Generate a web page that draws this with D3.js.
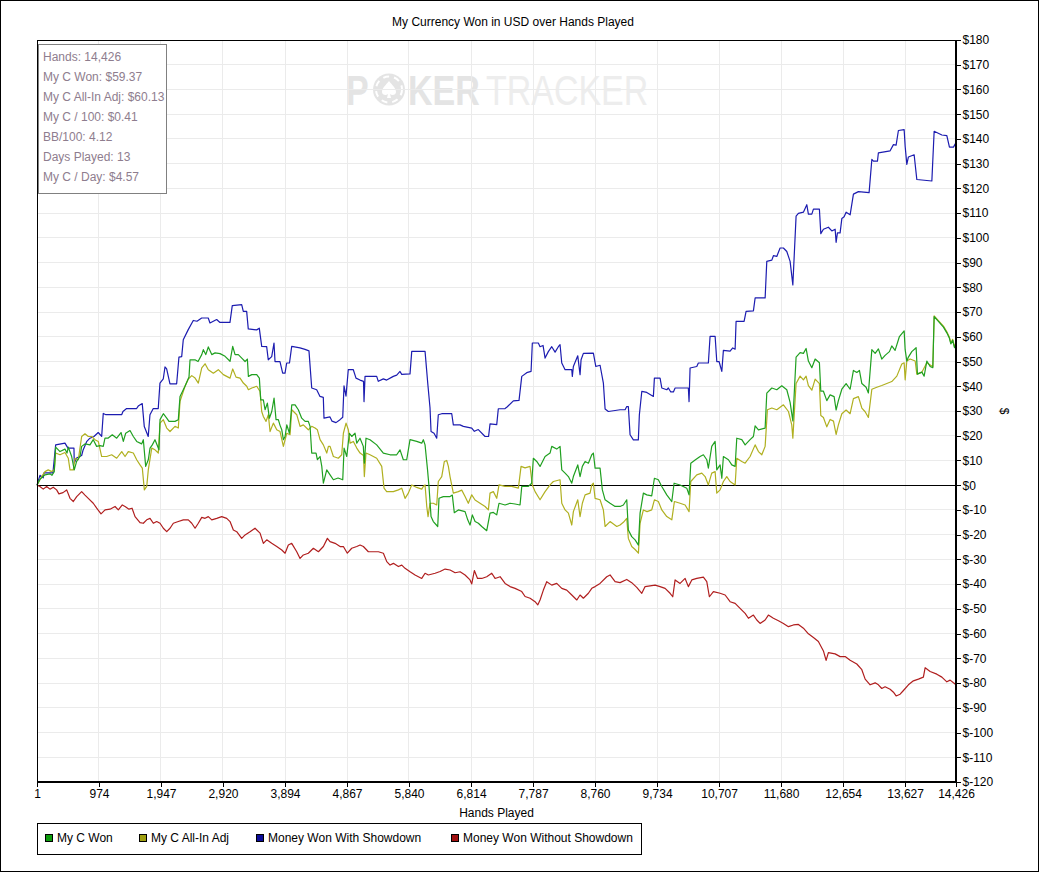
<!DOCTYPE html>
<html lang="en">
<head>
<meta charset="UTF-8">
<title>My Currency Won in USD over Hands Played</title>
<script src="https://d3js.org/d3.v7.min.js"></script>
<style>
  body, html { margin: 0; background: #fff; }
  svg { display: block; font-family: "Liberation Sans", Arial, sans-serif; }
  .axis text { font-size: 12px; fill: #000; }
  .axis path, .axis line { stroke: #000; shape-rendering: crispEdges; }
  .grid line { stroke: #ebebeb; shape-rendering: crispEdges; }
</style>
</head>
<body>
<div id="chart"></div>
<script>
// ---- data ----
const xTicks = [1, 974, 1947, 2920, 3894, 4867, 5840, 6814, 7787, 8760, 9734, 10707, 11680, 12654, 13627, 14426];
const yTicks = d3.range(-120, 181, 10);

const seriesNames = ["My C Won", "My C All-In Adj", "Money Won With Showdown", "Money Won Without Showdown"];

const statLines = [
  "Hands: 14,426",
  "My C Won: $59.37",
  "My C All-In Adj: $60.13",
  "My C / 100: $0.41",
  "BB/100: 4.12",
  "Days Played: 13",
  "My C / Day: $4.57"
];

// Money Won With Showdown
const blueHands = [
  1,47,99,110,251,294,440,487,581,586,
  623,702,722,780,832,895,962,1016,1041,1083,
  1330,1350,1408,1565,1590,1653,1685,1747,1774,1826,
  1904,1931,1983,2010,2036,2088,2193,2229,2272,2297,
  2375,2454,2512,2586,2689,2716,2821,2873,3030,3066,
  3214,3239,3292,3317,3449,3490,3528,3606,3631,3685,
  3721,3737,3815,3857,3894,3920,3964,3999,4129,4208,
  4270,4313,4391,4443,4495,4506,4600,4632,4694,4757,
  4800,4820,4851,4887,4966,5008,5071,5126,5134,5150,
  5333,5358,5437,5490,5594,5647,5699,5726,5856,5883,
  6092,6134,6170,6186,6233,6275,6300,6354,6511,6536,
  6641,6693,6825,6866,6928,7034,7089,7112,7217,7242,
  7348,7379,7478,7567,7610,7688,7756,7776,7870,7897,
  7944,7976,8027,8081,8133,8184,8211,8238,8290,8395,
  8404,8420,8489,8525,8541,8577,8734,8772,8839,8891,
  8918,8969,9075,9153,9232,9258,9283,9310,9362,9440,
  9456,9494,9572,9676,9692,9781,9808,9886,9911,9949,
  9990,10017,10225,10236,10252,10357,10382,10539,10566,10645,
  10671,10707,10750,10775,10880,10922,10959,10974,11100,11131,
  11246,11273,11430,11456,11535,11560,11613,11665,11717,11770,
  11822,11865,11916,11952,12031,12084,12109,12163,12188,12282,
  12304,12345,12423,12477,12529,12544,12565,12607,12634,12670,
  12701,12764,12816,12894,13062,13105,13130,13193,13208,13392,
  13444,13486,13522,13612,13628,13654,13679,13769,13811,14047,
  14083,14204,14282,14323,14386,14426
];
const blueVals = [
  0,4,3,5,5,16.3,17,15,15,9,
  11,12,14,17.6,19,19.7,21.3,19.7,29,28.5,
  28.5,29.8,31,31,32,33,23.7,19.7,28.5,31,
  31,41.3,43,47.8,47,41,41,51.8,52,58.8,
  62.9,66.6,66.3,67.6,67.6,65.6,67,65.8,65.8,72.6,
  73,70.3,70.3,63.2,62.8,63.5,56.1,56,50.7,52,
  57.5,50,50,45.3,45.3,49.4,49.4,56.1,55.5,54.9,
  54.3,39.3,38.6,35.9,35.5,27.1,27.6,25.9,25.3,26.5,
  27.5,40.2,36,46.7,46.7,43.3,42.5,42,33.8,44,
  44,42,43,42.5,44,44.5,46,44.8,45,54.1,
  54.1,41.3,31.2,21.7,21,19,28.5,28.9,28.9,24.4,
  24.4,23.8,23.1,21.8,22.5,19.7,19.7,24.8,24.5,30.9,
  31,31.6,34.1,34.3,44,45.5,46,57.5,57.5,56,
  56.5,51.4,54,56,53.8,56,56.8,49.4,46.7,46.7,
  44,48,52.3,44.7,50.7,53.3,53.4,48,48.5,41.3,
  30.8,29.8,30.2,30.5,30.5,31.8,31.8,20.4,18.3,18.3,
  28.5,37.9,37.5,35.9,43.3,43.3,39.3,38.6,39.3,37.7,
  37.7,39.3,39.3,33.8,47.4,48,49.4,49.4,60.2,60.2,
  50,50,46,54.5,54.2,55.5,55,66.2,66.2,70.3,
  70.5,75.7,75.7,90.5,91,92.8,92.5,95.9,95.9,94.5,
  90.5,81,108.8,109.9,110.4,113.4,109.6,109.6,111.6,111.6,
  101.7,103.5,104.3,102.8,103.5,98.2,102,102,107.8,108.5,
  110.4,109.3,117.7,118.7,118.3,131.7,131,131,134.4,135.2,
  137.7,137.5,143.4,143.8,137,129.7,132.7,133.6,123.6,123,
  143.1,141.6,141.3,136.7,136.7,138.5
];

// My C Won
const greenHands = [
  1,47,126,204,236,272,294,362,440,472,492,
  545,586,623,676,702,754,832,884,937,990,
  1041,1068,1115,1183,1252,1320,1356,1393,1461,1513,
  1566,1644,1670,1707,1748,1775,1811,1853,1916,1932,
  1984,2037,2073,2167,2219,2246,2324,2387,2403,2481,
  2529,2587,2612,2650,2690,2744,2796,2874,2953,3031,
  3073,3110,3161,3215,3267,3303,3319,3372,3450,3491,
  3513,3554,3581,3617,3648,3686,3722,3753,3789,3816,
  3843,3868,3895,3922,3963,4000,4052,4103,4156,4209,
  4260,4287,4313,4381,4402,4444,4471,4496,4549,4601,
  4653,4727,4800,4821,4863,4904,4941,4993,5020,5071,
  5123,5139,5165,5228,5333,5437,5542,5647,5699,5751,
  5804,5856,5961,6040,6065,6092,6131,6154,6186,6222,
  6291,6311,6379,6484,6520,6551,6614,6720,6762,6798,
  6834,6877,6929,6982,7060,7112,7164,7217,7253,7348,
  7426,7505,7583,7610,7714,7766,7792,7845,7897,7976,
  8054,8081,8159,8211,8238,8290,8342,8395,8420,8489,
  8525,8561,8604,8656,8709,8734,8761,8839,8875,8918,
  8996,9075,9153,9205,9258,9283,9336,9389,9441,9467,
  9519,9572,9650,9692,9754,9808,9886,9965,10001,10095,
  10200,10236,10263,10331,10409,10461,10514,10539,10592,10645,
  10671,10723,10750,10775,10854,10907,10959,10985,11064,11116,
  11194,11246,11273,11325,11430,11456,11535,11613,11691,11770,
  11822,11865,11916,11979,12031,12073,12109,12163,12215,12282,
  12304,12345,12398,12450,12513,12544,12580,12634,12701,12764,
  12816,12869,12910,12948,13015,13051,13105,13157,13208,13261,
  13313,13381,13418,13470,13538,13612,13628,13654,13679,13732,
  13800,13821,13890,13926,13968,14020,14062,14083,14150,14229,
  14282,14323,14345,14374,14402,14426
];
const greenVals = [
  0,2.4,4.2,4.6,4,5.5,15.4,13.6,14.6,13,15.4,
  11.6,6.2,9.6,11.6,15.7,16.7,16.3,18.4,15.7,16,
  15.7,19,19,20.4,19,21.3,17.7,21,22.1,19.7,
  17.7,16.7,18.4,7.6,10.3,15,16.3,18.4,14.3,26.5,
  28.9,27.1,25.8,25.8,26.5,35.9,40,43.7,50.7,50.7,
  50,52.8,54.8,52.8,55.9,52.8,53.5,53.2,52.1,50.1,
  56.1,52.8,52.8,51.4,50,51,44,44.7,44.7,43.3,
  34.5,34.5,30.5,33.2,27.1,29.8,35.2,26.5,26.5,24.2,
  22.4,18.4,19.7,24.4,21,32.5,32.5,30.5,27.1,25.8,
  25.8,23.8,13,13,10.3,11.6,7.6,0.8,6.2,4.2,
  2.2,2.9,2.2,15,11.6,21,19.7,21,17,19,
  15.7,8.9,19,18.4,16.3,13,12.3,12.3,14.3,10.3,
  10.3,18.4,17.7,17,18.4,16.3,6.2,-0.5,-12.7,-14.7,
  -16.7,-5.3,-4.6,-4.6,-4,-11.1,-10,-10.7,-14,-16.1,
  -12,-14.7,-15.4,-16.7,-18.4,-11.3,-11,-12,-7.3,-8,
  -7.3,-7.6,-8,-0.5,-0.5,0.8,10.9,9.6,7.6,11.6,
  13,15.7,14.6,15.7,6.2,4.9,3.5,0.8,3.5,8.2,
  3.5,7.6,9.6,8.9,12.3,13,6.9,6.9,-1.9,-5.9,
  -7.3,-8.6,-8.6,-8,-5.9,-18.1,-20.8,-22.1,-24.2,-11.3,
  -3.2,-3.9,-4.3,2.8,2.2,-0.5,-3.9,-6.6,0.8,0.1,
  -1.2,-3.9,8.9,10.2,11.6,12.3,10.3,6.9,15.7,17.7,
  6.2,8.2,2.8,11.6,10.3,8.2,7.6,19,18.4,16.3,
  18.4,19.7,24,22.4,23.1,37.2,39.3,38.6,40.2,38.6,
  33.5,26,51.8,53.6,53.3,55.3,50.2,47.5,51,49.5,
  38,38,34.2,36.5,35.8,30.4,34.2,38.8,41.1,38.8,
  46.4,45.6,46.4,41.1,39.6,37.3,54.8,53.3,55.1,51,
  52.5,54,56.3,54.5,60.1,62.4,54.8,50.2,51.8,54,
  55.6,44.9,45.7,44.1,50.2,48,47.5,68.2,66.2,63.9,
  61.6,59.4,57.1,58.6,55.6,57.1
];

// My C All-In Adj
const oliveHands = [
  1,74,126,177,231,272,294,362,440,492,
  519,571,597,649,702,754,806,859,911,963,
  1016,1095,1173,1252,1331,1383,1434,1513,1566,1618,
  1654,1686,1723,1748,1802,1853,1905,1932,1984,2037,
  2089,2167,2219,2246,2324,2376,2430,2482,2533,2587,
  2639,2690,2769,2847,2926,3031,3073,3125,3188,3240,
  3293,3319,3372,3450,3502,3528,3554,3596,3632,3659,
  3711,3764,3816,3868,3922,3973,4000,4078,4130,4182,
  4260,4313,4365,4402,4444,4496,4549,4575,4601,4653,
  4731,4784,4810,4852,4888,4915,4967,5020,5072,5126,
  5139,5165,5228,5333,5412,5448,5490,5594,5673,5726,
  5778,5830,5883,5961,6040,6065,6092,6119,6139,6170,
  6222,6275,6300,6354,6395,6432,6458,6484,6536,6614,
  6668,6720,6771,6825,6877,6955,7034,7086,7112,7164,
  7217,7253,7348,7453,7557,7599,7662,7740,7776,7819,
  7897,7976,8054,8106,8211,8238,8290,8342,8395,8420,
  8489,8525,8561,8604,8682,8709,8734,8761,8839,8891,
  8918,8996,9101,9153,9205,9258,9283,9336,9389,9441,
  9467,9519,9577,9650,9692,9754,9808,9886,9965,10006,
  10095,10174,10236,10263,10357,10436,10488,10539,10592,10645,
  10671,10723,10775,10828,10880,10959,10985,11064,11116,11194,
  11273,11325,11378,11430,11466,11535,11613,11717,11796,11848,
  11865,11916,11979,12031,12073,12109,12163,12215,12282,12304,
  12345,12398,12450,12503,12544,12580,12634,12701,12764,12816,
  12894,12948,13000,13051,13105,13183,13261,13340,13418,13497,
  13575,13612,13628,13654,13706,13785,13811,13890,13968,14062,
  14083,14150,14229,14282,14323,14345,14374,14402,14426
];
const oliveVals = [
  0,3.5,5.5,6.2,5.5,6.2,13,12.3,13.2,10.9,
  6.2,6.2,10.9,10.3,19.7,20.8,19.7,19.7,18.4,17.7,
  11.6,11.6,12.3,10.9,13.6,11.6,13.6,13,10.3,8.2,
  6.9,-1.9,-0.5,6.2,15,14.3,13,25.1,26.5,23.1,
  21.7,23.8,23.1,33.9,40,42.9,44.3,43.3,41.3,47.4,
  49.1,46.7,45.3,46.7,44.7,43.3,47,43.7,43.3,41.3,
  40,38.6,39.3,40,37.9,29.8,27.8,25.8,28.5,21.7,
  25.1,22.4,21.7,15.7,21,20.4,30.5,28.5,23.8,24.4,
  22.4,23.8,23.1,22.4,18.4,16.3,13,15.7,15.7,11.6,
  10.9,12.3,21,25.1,22.4,17,17.7,15,13,12,
  3.5,13,12.3,10.9,7.6,-1.2,-2.6,-2.6,-1.9,-1.2,
  -5.3,-3.2,0.1,-0.9,-1.6,-0.5,0.1,-8.6,-12.7,-7.3,
  -7.3,-8,1.5,3.5,9.6,10,7.6,3.5,-3.2,-2.6,
  -2,-4.6,-7.3,-3.9,-6,-7.3,-8.6,-10,-3.2,-2.6,
  -5.3,0.1,-0.5,-0.5,-1.2,7.6,7,7.6,0.1,-2.6,
  -5.9,-2.6,0.1,1.5,2.2,-7.3,-10,-11.3,-16.1,-10.7,
  -5.9,-12.7,-7.3,-3.9,-3.2,0.1,0.8,-5.3,-5.9,-10,
  -16.7,-14.7,-16.7,-16.1,-15,-13.4,-21.5,-24.8,-26,-27.5,
  -15.4,-10,-10.7,-10,-5.9,-6.6,-10,-12.7,-14,-6.6,
  -7.3,-8,-10.7,1.5,4.2,4.9,3.5,0.1,4.9,5.5,
  -3.2,-1.9,1.5,3.5,1.5,0.1,10.9,9.6,8.9,11.6,
  16.3,13.6,12.3,15.7,30.5,31.2,30.5,32.5,29.8,24.4,
  19,41.1,44.1,42.6,44.1,40.3,38.4,42.9,41.1,28.2,
  27.4,23.6,26.6,25.9,20.5,24.4,28.9,30.4,28.9,35,
  35.8,31.2,29.7,27.4,38.8,39.6,40.3,41.1,41.9,44.1,
  49,49.5,42.6,50.2,51,50.2,44.9,45.7,49.5,47.9,
  68.5,66.5,64.3,62,59.8,57.5,59,56,57.5
];

// Money Won Without Showdown
const redHands = [
  1,47,99,152,204,256,309,345,409,467,
  519,571,624,702,754,806,884,938,1006,1069,
  1147,1226,1277,1340,1383,1445,1493,1540,1618,1670,
  1723,1775,1827,1880,1932,1984,2037,2089,2141,2219,
  2298,2376,2430,2482,2533,2587,2639,2690,2744,2822,
  2900,2979,3031,3083,3136,3214,3267,3345,3423,3502,
  3554,3607,3685,3764,3843,3895,3946,3999,4078,4130,
  4182,4260,4339,4418,4496,4559,4601,4680,4758,4810,
  4872,4941,5020,5072,5124,5202,5281,5360,5438,5491,
  5543,5595,5673,5727,5778,5857,5935,5987,6040,6092,
  6144,6250,6328,6407,6485,6564,6642,6720,6798,6825,
  6866,6916,6982,7060,7139,7191,7270,7348,7426,7505,
  7610,7662,7741,7819,7861,7897,7949,8002,8081,8159,
  8238,8316,8395,8474,8525,8577,8656,8709,8761,8839,
  8944,8996,9075,9153,9258,9336,9415,9494,9546,9624,
  9703,9781,9860,9938,9980,10017,10095,10174,10225,10279,
  10357,10461,10514,10555,10618,10723,10802,10880,10959,11037,
  11116,11168,11246,11299,11351,11430,11481,11560,11639,11717,
  11796,11874,11952,12031,12109,12188,12266,12345,12387,12423,
  12529,12607,12686,12764,12869,12948,13000,13078,13157,13208,
  13261,13313,13392,13444,13486,13549,13601,13679,13757,13836,
  13914,13942,14020,14125,14204,14282,14334,14386,14426
];
const redVals = [
  0,-0.5,-1.6,-0.5,-1.6,-0.8,-1.9,-3.5,-3,-1.9,
  -5.3,-6.6,-4.6,-2.6,-4,-5.3,-7.3,-9.3,-11.6,-10,
  -9.7,-8.6,-10,-8,-8.6,-9.7,-9.3,-12.7,-15.1,-15.4,
  -14,-13.4,-15.4,-14.7,-15.4,-17.4,-18.8,-17.4,-15.4,-14.7,
  -14,-14,-15.4,-17.4,-15.4,-13,-13.4,-12.7,-14,-13.4,
  -12.7,-13.4,-14.7,-18.1,-18.8,-21.5,-20.1,-18.8,-17.4,-19.4,
  -23.5,-22.1,-23.5,-24.8,-26.2,-27.5,-24.2,-23.5,-26.9,-29.6,
  -28.2,-27.5,-25.5,-26.9,-24.8,-21.5,-22.8,-23.5,-24.8,-24.8,
  -27.5,-25.5,-24.8,-24.2,-24.8,-26.9,-26.9,-26.9,-27.5,-30.9,
  -32.3,-31.6,-32.9,-32.3,-33.6,-35,-36.3,-37,-37.7,-35.6,
  -36.3,-35.6,-34.9,-33.9,-34.3,-35.4,-35,-36.3,-38.3,-39.9,
  -34.5,-37.7,-37.7,-37,-35.6,-37.7,-37,-39.7,-41,-41.7,
  -43,-45,-45.7,-47.1,-48.4,-46.4,-42.4,-39,-40.4,-39.7,
  -41.7,-42.4,-44.4,-46.4,-44.4,-45.7,-43.7,-41.7,-41,-39.7,
  -37,-36.3,-39,-39.4,-38.1,-39.4,-41.3,-43.7,-41,-40.7,
  -40.4,-41,-41.7,-43.7,-45.1,-38.3,-39.7,-37.7,-41,-38.3,
  -37.7,-37.2,-39,-45.1,-43,-43.7,-44.4,-47.1,-47.8,-49.8,
  -51.8,-53.8,-52.5,-54.5,-55.9,-54.5,-52.5,-53.8,-54.8,-55.9,
  -57.2,-56.5,-56.3,-57.8,-60.1,-61.6,-63.2,-67,-70.8,-67.7,
  -68.2,-69.3,-69.3,-70.8,-72.3,-74.6,-78.4,-80.7,-79.9,-80.7,
  -82.2,-81.5,-82.5,-83.7,-85.2,-84.5,-83,-80.7,-79.1,-78.4,
  -77.6,-73.8,-75.3,-76.4,-77.6,-79.5,-78.8,-79.9,-80.7
];

const lineColors = ["#20a020", "#b0b020", "#1c1cb0", "#b01e1e"];
const swatchColors = ["#0c9c0c", "#a0a010", "#0c0c98", "#a01010"];

// ---- layout ----
const width = 1040, height = 873;
const plot = {left: 37, right: 956, top: 40, bottom: 782};
const legendX = [45, 139, 256, 451];

const svg = d3.select("#chart").append("svg")
  .attr("width", width)
  .attr("height", height);

svg.append("rect")
  .attr("width", width).attr("height", height)
  .attr("fill", "#fff");

// outer frame
svg.append("rect")
  .attr("x", 0.5).attr("y", 0.5)
  .attr("width", 1038).attr("height", 871)
  .attr("fill", "none").attr("stroke", "#000")
  .attr("shape-rendering", "crispEdges");

const x = d3.scaleLinear().domain([1, 14426]).range([plot.left, plot.right]);
const y = d3.scaleLinear().domain([-120, 180]).range([plot.bottom, plot.top]);

// title
svg.append("text")
  .attr("x", 513).attr("y", 26)
  .attr("text-anchor", "middle")
  .attr("font-size", 12)
  .text("My Currency Won in USD over Hands Played");

// watermark: chip in place of the "O", letters drawn condensed
const wm = svg.append("g").attr("class", "watermark");
wm.append("circle")
  .attr("cx", 389).attr("cy", 89.5).attr("r", 16)
  .attr("fill", "#e4e4e4");
wm.append("circle")
  .attr("cx", 389).attr("cy", 89.5).attr("r", 13)
  .attr("fill", "none").attr("stroke", "#fff").attr("stroke-width", 2)
  .attr("stroke-dasharray", "6 5");
wm.append("path")
  .attr("transform", "translate(389,89)")
  .attr("d", "M0,-8 C3,-4 7,-1 7,3 C7,6 3,7 1,5 L2,9 L-2,9 L-1,5 C-3,7 -7,6 -7,3 C-7,-1 -3,-4 0,-8 Z")
  .attr("fill", "#fff");
const wmParts = [
  {t: "P", x: 346, bold: true, fill: "#e4e4e4"},
  {t: "KER", x: 408, bold: true, fill: "#e4e4e4"},
  {t: "TRACKER", x: 486, bold: false, fill: "#ededed"}
];
wm.selectAll("text")
  .data(wmParts)
  .join("text")
  .attr("transform", d => `translate(${d.x},105) scale(0.79,1)`)
  .attr("font-size", 43)
  .attr("font-weight", d => d.bold ? "bold" : "normal")
  .attr("fill", d => d.fill)
  .text(d => d.t);

// gridlines
svg.append("g").attr("class", "grid")
  .selectAll("line")
  .data(xTicks.slice(1, -1))
  .join("line")
  .attr("x1", d => x(d)).attr("x2", d => x(d))
  .attr("y1", plot.top).attr("y2", plot.bottom);

svg.append("g").attr("class", "grid")
  .selectAll("line")
  .data(yTicks.filter(d => d !== 0 && d !== 180 && d !== -120))
  .join("line")
  .attr("x1", plot.left).attr("x2", plot.right)
  .attr("y1", d => y(d)).attr("y2", d => y(d));

// zero line
svg.append("line")
  .attr("x1", plot.left).attr("x2", plot.right)
  .attr("y1", y(0)).attr("y2", y(0))
  .attr("stroke", "#000")
  .attr("shape-rendering", "crispEdges");

// series
const seriesData = [
  d3.zip(greenHands, greenVals),
  d3.zip(oliveHands, oliveVals),
  d3.zip(blueHands, blueVals),
  d3.zip(redHands, redVals)
];
if (greenHands.length !== greenVals.length || oliveHands.length !== oliveVals.length ||
    blueHands.length !== blueVals.length || redHands.length !== redVals.length) {
  console.error("series length mismatch");
}

const line = d3.line()
  .x(d => x(d[0]))
  .y(d => y(d[1]));

const drawOrder = [3, 2, 1, 0];
svg.append("g")
  .selectAll("path")
  .data(drawOrder)
  .join("path")
  .attr("d", i => line(seriesData[i]))
  .attr("fill", "none")
  .attr("stroke", i => lineColors[i])
  .attr("stroke-width", 1.2)
  .attr("stroke-linejoin", "round");

// plot frame
svg.append("rect")
  .attr("x", plot.left + 0.5).attr("y", plot.top + 0.5)
  .attr("width", plot.right - plot.left - 1).attr("height", plot.bottom - plot.top - 1)
  .attr("fill", "none").attr("stroke", "#000")
  .attr("stroke-width", 1);

// axes
const fmtMoney = v => v < 0 ? "$-" + Math.abs(v) : "$" + v;

svg.append("g")
  .attr("class", "axis")
  .attr("transform", `translate(${plot.right - 0.5},0)`)
  .call(d3.axisRight(y).tickValues(yTicks).tickSize(5).tickSizeOuter(0).tickPadding(2).tickFormat(fmtMoney))
  .call(g => g.selectAll("text").attr("font-family", "Liberation Sans, Arial, sans-serif"));

svg.append("g")
  .attr("class", "axis")
  .attr("transform", `translate(0,${plot.bottom - 0.5})`)
  .call(d3.axisBottom(x).tickValues(xTicks).tickSize(5).tickSizeOuter(0).tickPadding(3).tickFormat(d3.format(",")))
  .call(g => g.selectAll("text").attr("font-family", "Liberation Sans, Arial, sans-serif"));

// axis titles
svg.append("text")
  .attr("x", (plot.left + plot.right) / 2).attr("y", 817)
  .attr("text-anchor", "middle")
  .attr("font-size", 12)
  .text("Hands Played");

svg.append("text")
  .attr("transform", `translate(1000,${(plot.top + plot.bottom) / 2}) rotate(90)`)
  .attr("text-anchor", "middle")
  .attr("font-size", 12)
  .text("$");

// stats box
const stats = svg.append("g");
stats.append("rect")
  .attr("x", 38.5).attr("y", 44.5)
  .attr("width", 128).attr("height", 149)
  .attr("fill", "#fff").attr("stroke", "#808080");
stats.selectAll("text")
  .data(statLines)
  .join("text")
  .attr("x", 43)
  .attr("y", (d, i) => 61 + i * 20)
  .attr("font-size", 12)
  .attr("fill", "#8e7d8e")
  .text(d => d);

// legend
const legend = svg.append("g");
legend.append("rect")
  .attr("x", 37.5).attr("y", 823.5)
  .attr("width", 604).attr("height", 31)
  .attr("fill", "#fff").attr("stroke", "#000");

const items = legend.selectAll("g.item")
  .data(seriesNames)
  .join("g")
  .attr("class", "item")
  .attr("transform", (d, i) => `translate(${legendX[i]},0)`);
items.append("rect")
  .attr("x", 0.5).attr("y", 834.5)
  .attr("width", 7).attr("height", 7)
  .attr("fill", (d, i) => swatchColors[i]).attr("stroke", "#000");
items.append("text")
  .attr("x", 12).attr("y", 842)
  .attr("font-size", 12)
  .text(d => d);
</script>
</body>
</html>
